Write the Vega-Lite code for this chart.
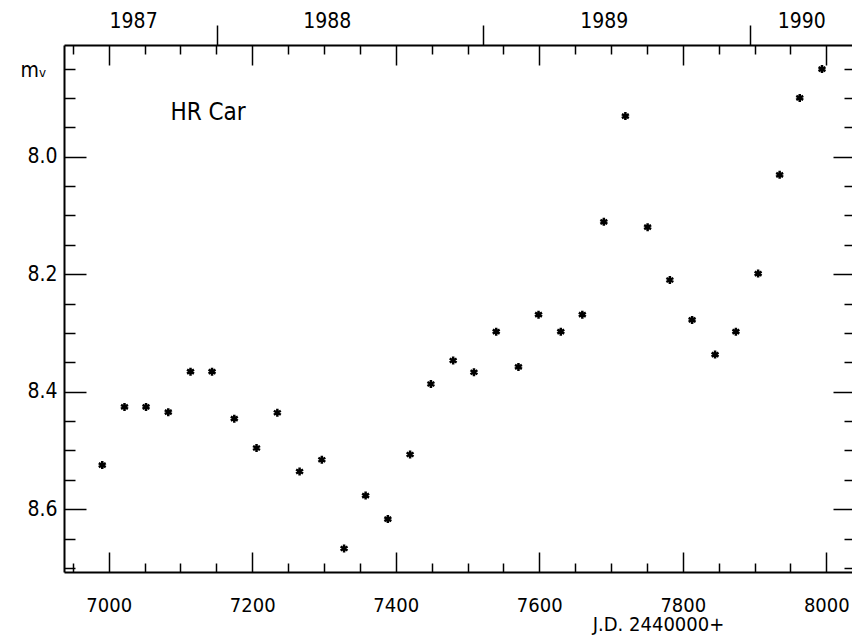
{
  "$schema": "https://vega.github.io/schema/vega-lite/v6.json",
  "width": 791,
  "height": 527,
  "autosize": {"type": "none"},
  "padding": {"left": 64, "top": 45, "right": 0, "bottom": 65},
  "background": "white",
  "config": {
    "view": {"stroke": null},
    "font": "Liberation Sans Narrow, DejaVu Sans Condensed, sans-serif",
    "axis": {
      "domainColor": "black",
      "domainWidth": 2,
      "tickColor": "black",
      "tickWidth": 1.5,
      "labelColor": "black",
      "labelFontSize": 21,
      "labelFont": "Liberation Sans Narrow, DejaVu Sans Condensed, sans-serif",
      "grid": false,
      "labelOverlap": false,
      "labelFlush": false,
      "titleColor": "black",
      "titleFontWeight": "normal"
    }
  },
  "datasets": {
    "obs": [
      {"jd": 6991, "mag": 8.525},
      {"jd": 7022, "mag": 8.426},
      {"jd": 7052, "mag": 8.426},
      {"jd": 7083, "mag": 8.435},
      {"jd": 7114, "mag": 8.366},
      {"jd": 7144, "mag": 8.366},
      {"jd": 7175, "mag": 8.446},
      {"jd": 7206, "mag": 8.496},
      {"jd": 7235, "mag": 8.436},
      {"jd": 7266, "mag": 8.536},
      {"jd": 7297, "mag": 8.516},
      {"jd": 7328, "mag": 8.667},
      {"jd": 7358, "mag": 8.577},
      {"jd": 7389, "mag": 8.617},
      {"jd": 7420, "mag": 8.507},
      {"jd": 7449, "mag": 8.387},
      {"jd": 7480, "mag": 8.347},
      {"jd": 7509, "mag": 8.367},
      {"jd": 7540, "mag": 8.298},
      {"jd": 7571, "mag": 8.358},
      {"jd": 7599, "mag": 8.269},
      {"jd": 7630, "mag": 8.298},
      {"jd": 7660, "mag": 8.269},
      {"jd": 7690, "mag": 8.111},
      {"jd": 7720, "mag": 7.931},
      {"jd": 7751, "mag": 8.120},
      {"jd": 7782, "mag": 8.210},
      {"jd": 7813, "mag": 8.278},
      {"jd": 7845, "mag": 8.337},
      {"jd": 7874, "mag": 8.298},
      {"jd": 7905, "mag": 8.199},
      {"jd": 7935, "mag": 8.031},
      {"jd": 7963, "mag": 7.900},
      {"jd": 7994, "mag": 7.851}
    ],
    "label": [
      {"jd": 7086, "mag": 7.925, "text": "HR Car"}
    ]
  },
  "resolve": {"axis": {"x": "independent", "y": "independent"}},
  "layer": [
    {
      "data": {"name": "obs"},
      "mark": {
        "type": "point",
        "shape": "M0,-1L0,1M-0.87,-0.5L0.87,0.5M-0.87,0.5L0.87,-0.5",
        "filled": false,
        "stroke": "black",
        "strokeWidth": 2.5,
        "size": 64,
        "opacity": 1
      },
      "encoding": {
        "x": {
          "field": "jd", "type": "quantitative",
          "scale": {"domain": [6937.7, 8040], "nice": false, "zero": false},
          "axis": {
            "orient": "bottom",
            "values": [6950, 7000, 7050, 7100, 7150, 7200, 7250, 7300, 7350, 7400, 7450, 7500, 7550, 7600, 7650, 7700, 7750, 7800, 7850, 7900, 7950, 8000],
            "tickSize": {"condition": {"test": "datum.value % 200 === 0", "value": -20}, "value": -9},
            "labelExpr": "datum.value % 200 === 0 ? datum.label : ''",
            "format": "d",
            "labelFontSize": 20,
            "labelPadding": 43,
            "title": "J.D. 2440000+",
            "titleFontSize": 20,
            "titleFont": "Liberation Sans Narrow, DejaVu Sans Condensed, sans-serif",
            "titleX": 594,
            "titleY": 52,
            "titleAlign": "center",
            "titleBaseline": "middle"
          }
        },
        "y": {
          "field": "mag", "type": "quantitative",
          "scale": {"domain": [8.707, 7.810], "nice": false, "zero": false},
          "axis": {
            "orient": "left",
            "values": [7.85, 7.9, 7.95, 8.0, 8.05, 8.1, 8.15, 8.2, 8.25, 8.3, 8.35, 8.4, 8.45, 8.5, 8.55, 8.6, 8.65, 8.7],
            "tickSize": {"condition": {"test": "abs(datum.value*5 - round(datum.value*5)) < 0.001", "value": -22}, "value": -11},
            "labelExpr": "abs(datum.value*5 - round(datum.value*5)) < 0.001 ? format(datum.value, '.1f') : ''",
            "labelPadding": 29,
            "title": "mᵥ",
            "titleAngle": 0,
            "titleFontSize": 21,
            "titleFont": "DejaVu Sans Condensed, DejaVu Sans, sans-serif",
            "titleX": -44,
            "titleY": 25,
            "titleAlign": "left",
            "titleBaseline": "middle"
          }
        }
      }
    },
    {
      "data": {"name": "obs"},
      "mark": {"type": "point", "opacity": 0},
      "encoding": {
        "x": {
          "field": "jd", "type": "quantitative",
          "axis": {
            "orient": "top",
            "values": [6950, 7000, 7050, 7100, 7150, 7200, 7250, 7300, 7350, 7400, 7450, 7500, 7550, 7600, 7650, 7700, 7750, 7800, 7850, 7900, 7950, 8000],
            "tickSize": {"condition": {"test": "datum.value % 200 === 0", "value": -20}, "value": -9},
            "labels": false,
            "title": null
          }
        },
        "y": {
          "field": "mag", "type": "quantitative",
          "axis": {
            "orient": "right",
            "values": [7.85, 7.9, 7.95, 8.0, 8.05, 8.1, 8.15, 8.2, 8.25, 8.3, 8.35, 8.4, 8.45, 8.5, 8.55, 8.6, 8.65, 8.7],
            "tickSize": {"condition": {"test": "abs(datum.value*5 - round(datum.value*5)) < 0.001", "value": -22}, "value": -11},
            "labels": false,
            "title": null
          }
        }
      }
    },
    {
      "data": {"name": "obs"},
      "mark": {"type": "point", "opacity": 0},
      "encoding": {
        "x": {
          "field": "jd", "type": "quantitative",
          "axis": {
            "orient": "top",
            "values": [7034, 7151, 7304, 7521, 7690, 7894, 7965],
            "tickSize": {"condition": {"test": "indexof([7151, 7521, 7894], datum.value) >= 0", "value": 20}, "value": 0},
            "labelExpr": "datum.value == 7034 ? '1987' : datum.value == 7304 ? '1988' : datum.value == 7690 ? '1989' : datum.value == 7965 ? '1990' : ''",
            "labelPadding": 14,
            "domain": false,
            "title": null
          }
        },
        "y": {"field": "mag", "type": "quantitative", "axis": null}
      }
    },
    {
      "data": {"name": "label"},
      "mark": {
        "type": "text",
        "align": "left",
        "baseline": "middle",
        "fontSize": 24,
        "font": "Liberation Sans Narrow, DejaVu Sans Condensed, sans-serif",
        "color": "black"
      },
      "encoding": {
        "x": {"field": "jd", "type": "quantitative", "axis": null},
        "y": {"field": "mag", "type": "quantitative", "axis": null},
        "text": {"field": "text"}
      }
    }
  ]
}
